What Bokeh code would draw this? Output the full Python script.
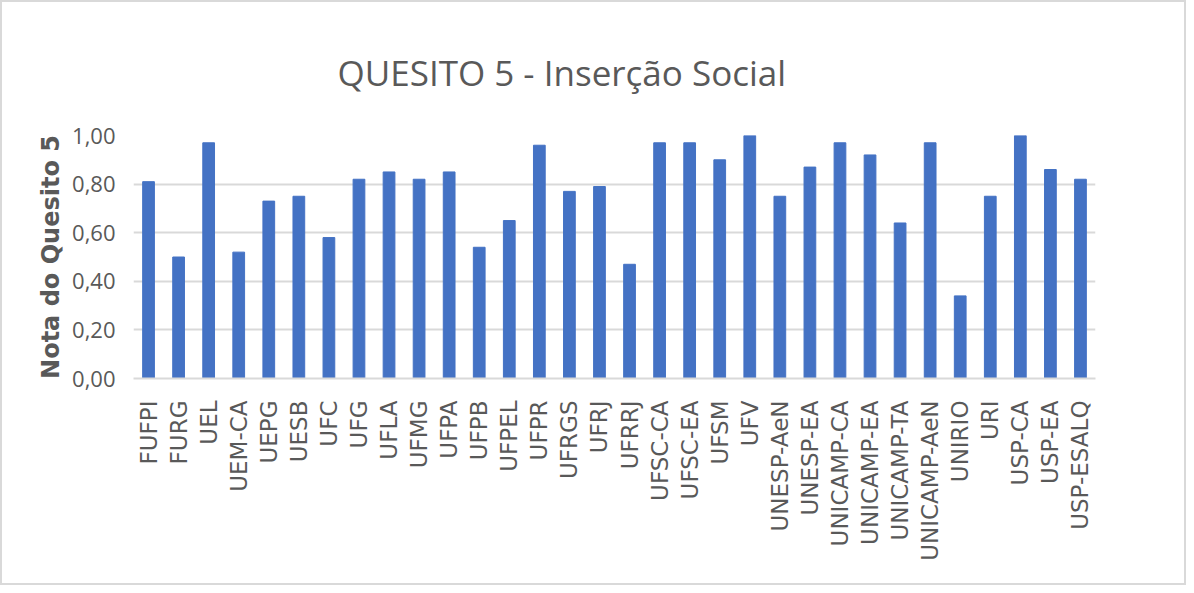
import math
from bokeh.plotting import figure
from bokeh.models import FixedTicker, CustomJSTickFormatter, Range1d
from bokeh.embed import file_html
from bokeh.resources import INLINE

categories = ["FUFPI", "FURG", "UEL", "UEM-CA", "UEPG", "UESB", "UFC", "UFG", "UFLA",
              "UFMG", "UFPA", "UFPB", "UFPEL", "UFPR", "UFRGS", "UFRJ", "UFRRJ",
              "UFSC-CA", "UFSC-EA", "UFSM", "UFV", "UNESP-AeN", "UNESP-EA",
              "UNICAMP-CA", "UNICAMP-EA", "UNICAMP-TA", "UNICAMP-AeN", "UNIRIO",
              "URI", "USP-CA", "USP-EA", "USP-ESALQ"]
values = [0.81, 0.50, 0.97, 0.52, 0.73, 0.75, 0.58, 0.82, 0.85,
          0.82, 0.85, 0.54, 0.65, 0.96, 0.77, 0.79, 0.47,
          0.97, 0.97, 0.90, 1.00, 0.75, 0.87,
          0.97, 0.92, 0.64, 0.97, 0.34,
          0.75, 1.00, 0.86, 0.82]
y_ticks = [0.0, 0.2, 0.4, 0.6, 0.8, 1.0]

TXT = "#595959"
FONT = "Open Sans"
WIDE = "DejaVu Sans"

p = figure(x_range=categories, y_range=Range1d(0, 1), width=1186, height=585,
           output_backend="svg", toolbar_location=None,
           min_border_left=131, min_border_right=93, min_border_top=133,
           min_border_bottom=209)
p.styles = {"border": "2px solid #d9d9d9"}

p.vbar(x=categories, top=values, width=0.39, color="#4472C4")

p.title.text = "QUESITO 5 - Inserção Social"
p.title.text_font = FONT
p.title.text_font_size = "35px"
p.title.text_font_style = "normal"
p.title.text_color = TXT
p.title.align = "left"
p.title.offset = 204
p.title.standoff = 80

p.outline_line_color = None
p.xgrid.grid_line_color = None
p.ygrid.grid_line_color = "#d9d9d9"
p.ygrid.grid_line_width = 2
p.yaxis.ticker = FixedTicker(ticks=y_ticks)
p.yaxis.formatter = CustomJSTickFormatter(code="return tick.toFixed(2).replace('.', ',');")
p.yaxis.axis_line_color = None
p.yaxis.major_tick_line_color = None
p.yaxis.minor_tick_line_color = None
p.yaxis.major_label_text_font = FONT
p.yaxis.major_label_text_font_size = "22px"
p.yaxis.major_label_text_color = TXT
p.yaxis.major_label_standoff = 12
p.yaxis.axis_label = "Nota do Quesito 5"
p.yaxis.axis_label_text_font = WIDE
p.yaxis.axis_label_text_font_size = "24px"
p.yaxis.axis_label_text_font_style = "bold"
p.yaxis.axis_label_text_color = TXT
p.yaxis.axis_label_standoff = 4

p.xaxis.axis_line_color = "#d9d9d9"
p.xaxis.axis_line_width = 2
p.xaxis.major_tick_line_color = None
p.xaxis.minor_tick_line_color = None
p.xaxis.major_label_orientation = math.pi / 2
p.xaxis.major_label_text_font = WIDE
p.xaxis.major_label_text_font_size = "23px"
p.xaxis.major_label_text_color = TXT
p.xaxis.major_label_standoff = 16

open("out.html", "w").write(file_html(p, INLINE))
